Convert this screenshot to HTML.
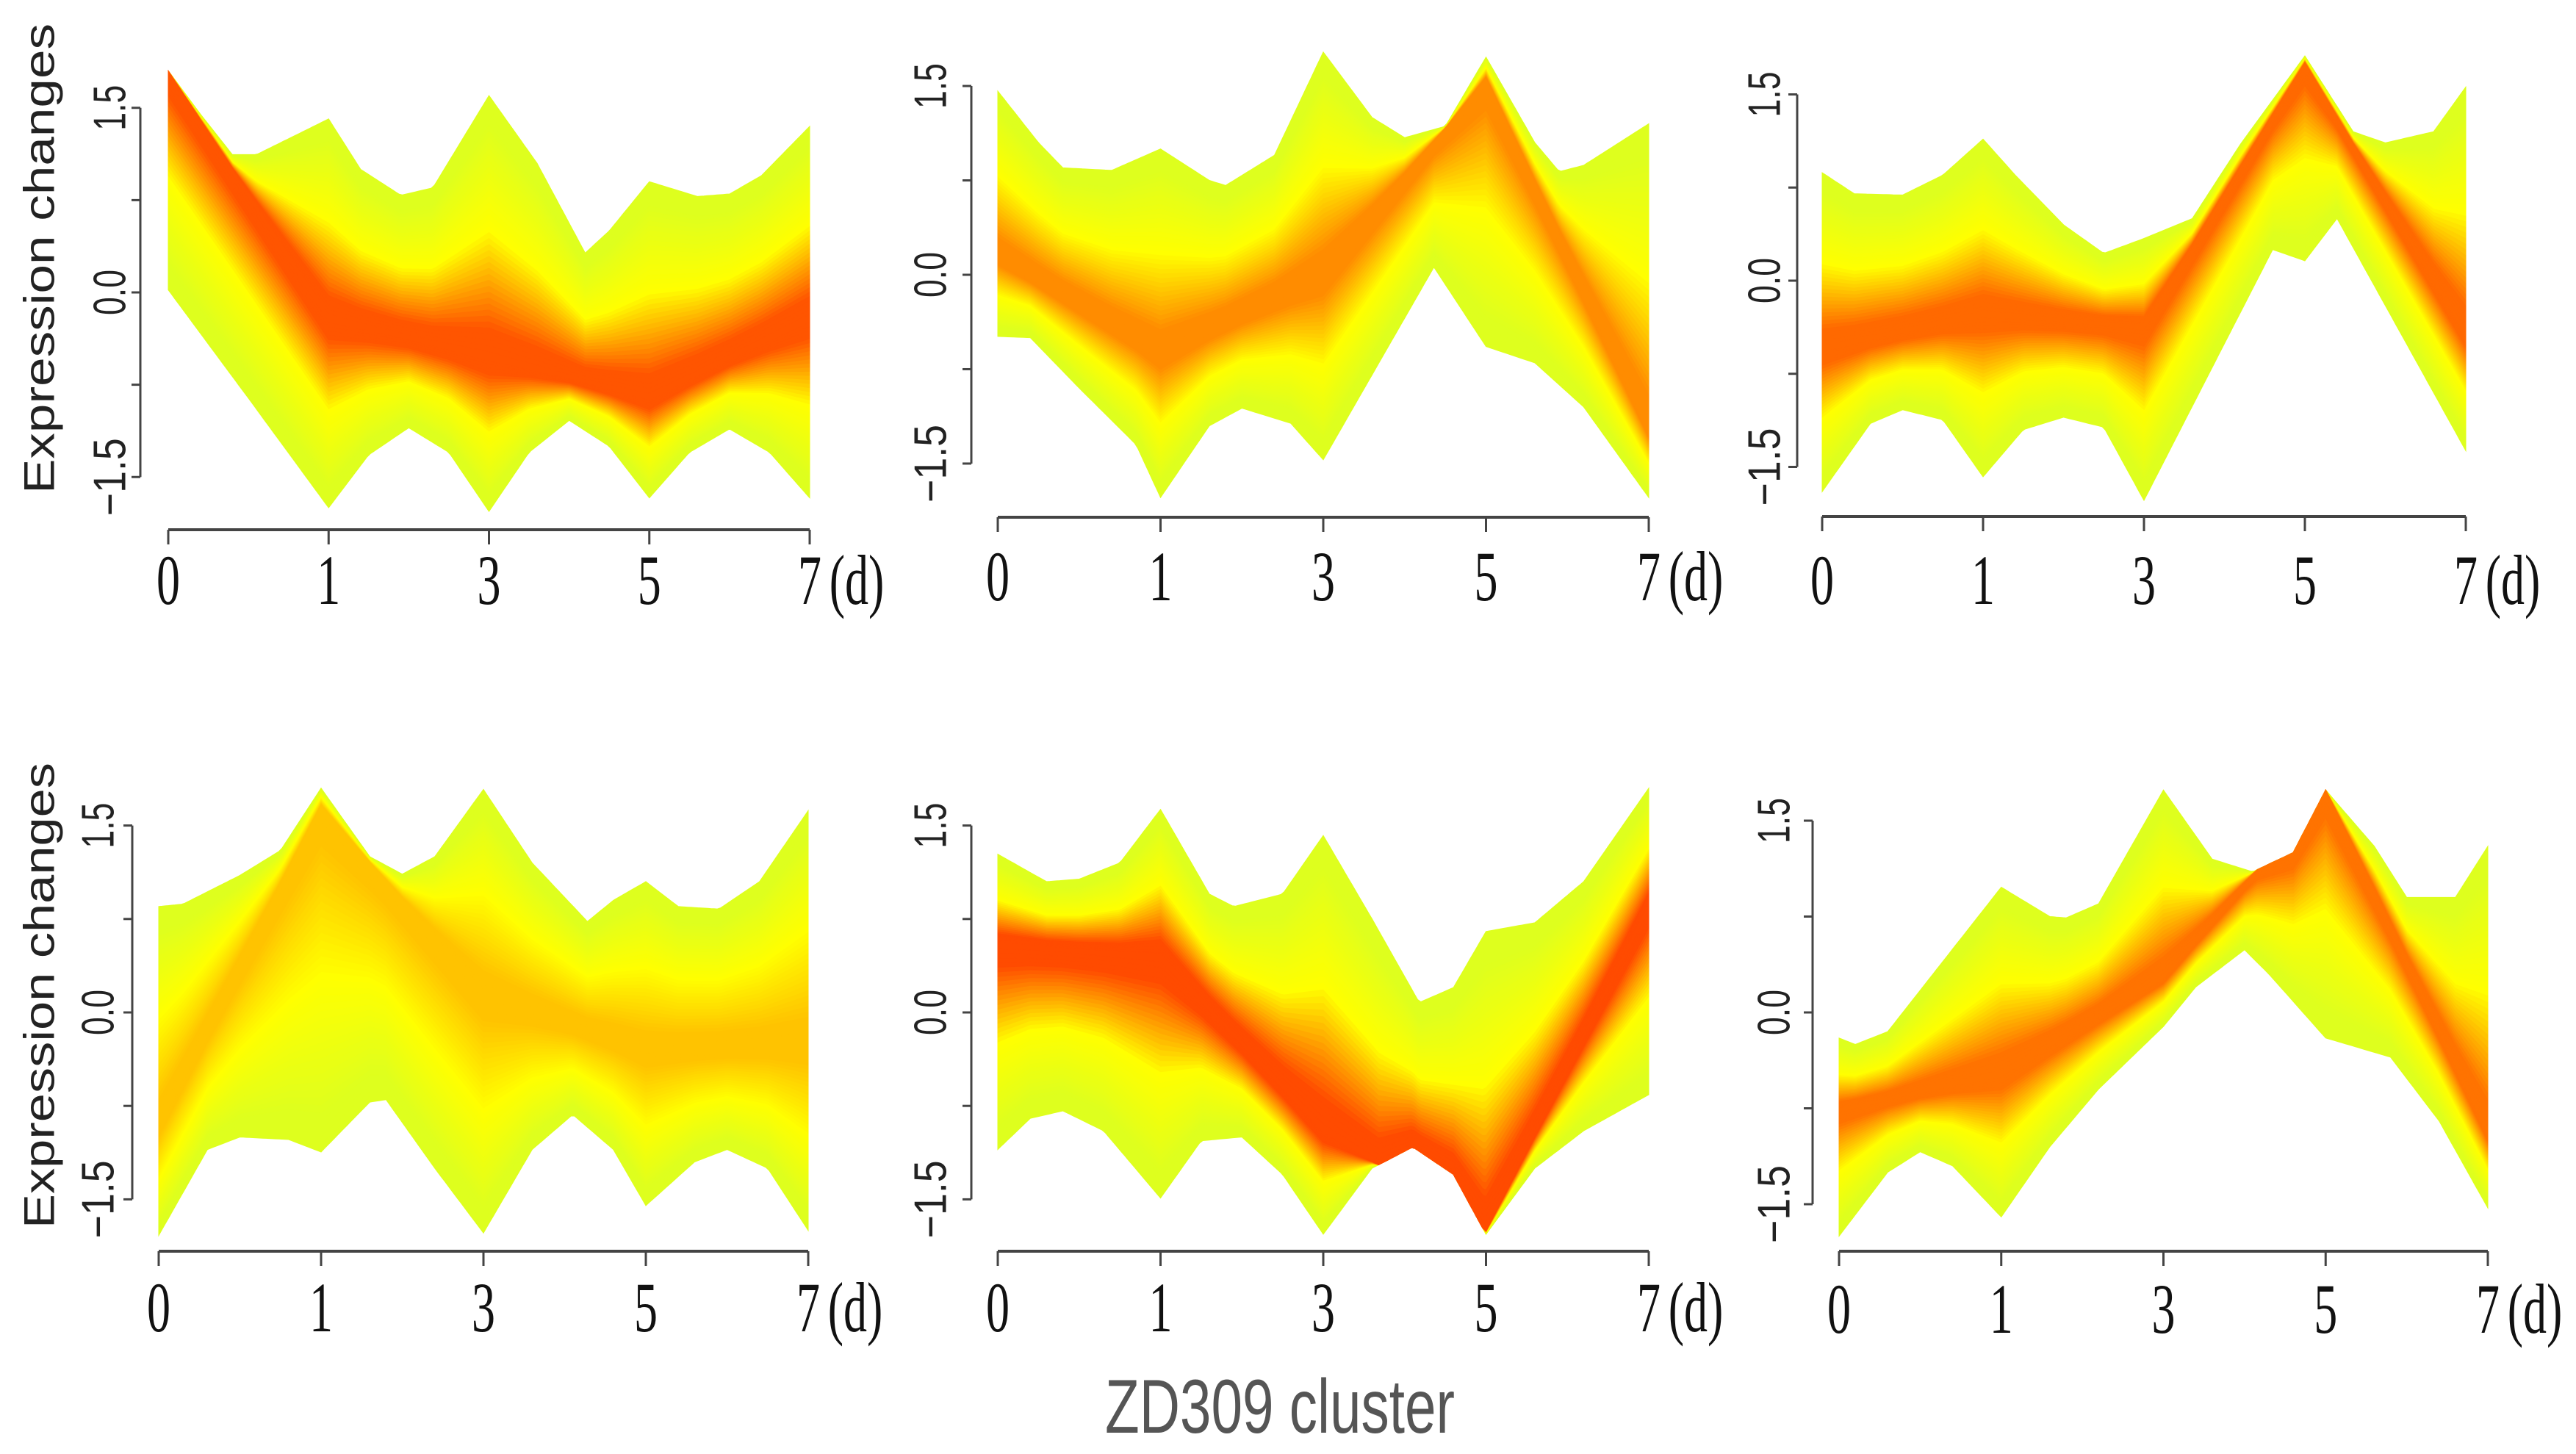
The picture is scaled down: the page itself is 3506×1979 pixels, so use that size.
<!DOCTYPE html>
<html><head><meta charset="utf-8"><title>ZD309 cluster</title>
<style>html,body{margin:0;padding:0;background:#fff;}svg{display:block;}</style>
</head><body>
<svg id="chart" xmlns="http://www.w3.org/2000/svg" width="3506" height="1979" viewBox="0 0 3506 1979">
<rect x="0" y="0" width="3506" height="1979" fill="#ffffff"/>
<text x="1742" y="0" transform="translate(0,1950) scale(1,1.3)" font-family="Liberation Sans, sans-serif" font-size="80" fill="#555" text-anchor="middle" textLength="476" lengthAdjust="spacingAndGlyphs">ZD309 cluster</text>
<text transform="translate(54,352) rotate(-90)" font-family="Liberation Sans, sans-serif" font-size="58" fill="#222" text-anchor="middle" dominant-baseline="central" textLength="640" lengthAdjust="spacingAndGlyphs">Expression changes</text>
<text transform="translate(54,1355) rotate(-90)" font-family="Liberation Sans, sans-serif" font-size="58" fill="#222" text-anchor="middle" dominant-baseline="central" textLength="634" lengthAdjust="spacingAndGlyphs">Expression changes</text>
</svg>
<script>
// ---- data ----
const timeLabels = ['0', '1', '3', '5', '7'];
const yTicks = [1.5, 0.75, 0, -0.75, -1.5];
const yTickLabels = ['1.5', '', '0.0', '', '\u22121.5'];

const p1Upper = [[0,1.80],[0.2,1.45],[0.4,1.12],[0.55,1.12],[1,1.41],[1.2,1.0],[1.45,0.79],[1.65,0.85],[2,1.60],[2.3,1.05],[2.6,0.32],[2.75,0.5],[3,0.90],[3.3,0.78],[3.5,0.80],[3.7,0.95],[4,1.35]];
const p1Lower = [[0,0.02],[0.5,-0.86],[1,-1.75],[1.25,-1.32],[1.5,-1.10],[1.75,-1.3],[2,-1.78],[2.25,-1.3],[2.5,-1.04],[2.75,-1.25],[3,-1.67],[3.25,-1.3],[3.5,-1.11],[3.75,-1.3],[4,-1.67]];
const p1Center = [1.80, -0.21, -0.53, -0.86, -0.21];

const p2Upper = [[0,1.46],[0.25,1.05],[0.4,0.85],[0.7,0.83],[1,1.0],[1.3,0.75],[1.4,0.71],[1.7,0.95],[2,1.77],[2.3,1.25],[2.5,1.09],[2.75,1.18],[3,1.73],[3.3,1.05],[3.45,0.82],[3.6,0.87],[4,1.20]];
const p2Lower = [[0,-0.49],[0.2,-0.5],[0.5,-0.9],[0.85,-1.35],[1,-1.77],[1.3,-1.2],[1.5,-1.06],[1.8,-1.18],[2,-1.47],[2.68,0.06],[3,-0.57],[3.3,-0.7],[3.6,-1.05],[4,-1.77]];
const p2Center = [0.15, -0.62, 0.0, 1.55, -1.23];

const p3Upper = [[0,0.87],[0.2,0.7],[0.5,0.69],[0.75,0.85],[1,1.14],[1.2,0.85],[1.5,0.45],[1.75,0.22],[2,0.34],[2.3,0.5],[2.6,1.1],[3,1.81],[3.3,1.2],[3.5,1.11],[3.8,1.2],[4,1.56]];
const p3Lower = [[0,-1.70],[0.3,-1.15],[0.5,-1.04],[0.75,-1.12],[1,-1.58],[1.25,-1.2],[1.5,-1.1],[1.75,-1.18],[2,-1.77],[2.8,0.25],[3,0.16],[3.2,0.5],[4,-1.37]];
const p3Center = [-0.55, -0.27, -0.37, 1.75, -0.43];

const p4Upper = [[0,0.85],[0.15,0.87],[0.5,1.10],[0.75,1.3],[1,1.80],[1.3,1.25],[1.5,1.11],[1.7,1.25],[2,1.79],[2.3,1.2],[2.64,0.73],[2.8,0.9],[3,1.05],[3.2,0.85],[3.45,0.83],[3.7,1.05],[4,1.62]];
const p4Lower = [[0,-1.79],[0.3,-1.1],[0.5,-1.0],[0.8,-1.02],[1,-1.12],[1.3,-0.72],[1.4,-0.7],[1.7,-1.25],[2,-1.77],[2.3,-1.1],[2.55,-0.82],[2.8,-1.1],[3,-1.55],[3.3,-1.2],[3.5,-1.1],[3.75,-1.25],[4,-1.75]];
const p4Center = [-0.9, 1.65, 0.15, -0.3, -0.25];

const p5Upper = [[0,1.27],[0.3,1.05],[0.5,1.07],[0.75,1.2],[1,1.63],[1.3,0.95],[1.45,0.85],[1.75,0.95],[2,1.42],[2.3,0.75],[2.59,0.08],[2.8,0.2],[3,0.65],[3.3,0.72],[3.6,1.05],[4,1.80]];
const p5Lower = [[0,-1.10],[0.2,-0.85],[0.4,-0.79],[0.65,-0.95],[1,-1.49],[1.25,-1.03],[1.5,-1.0],[1.75,-1.3],[2,-1.78],[2.3,-1.25],[2.55,-1.08],[2.8,-1.3],[3,-1.78],[3.3,-1.25],[3.6,-0.95],[4,-0.66]];
const p5Center = [0.55, 0.45, -0.95, -1.75, 0.85];

const p6Upper = [[0,-0.20],[0.1,-0.25],[0.3,-0.15],[1,0.98],[1.3,0.75],[1.4,0.74],[1.6,0.85],[2,1.74],[2.3,1.2],[2.55,1.1],[2.8,1.25],[3,1.74],[3.3,1.3],[3.5,0.9],[3.8,0.9],[4,1.3]];
const p6Lower = [[0,-1.75],[0.3,-1.25],[0.5,-1.09],[0.7,-1.2],[1,-1.6],[1.3,-1.05],[1.6,-0.6],[2,-0.11],[2.2,0.2],[2.5,0.49],[2.65,0.3],[3,-0.2],[3.4,-0.35],[3.7,-0.85],[4,-1.53]];
const p6Center = [-0.76, -0.48, 0.27, 1.74, -0.94];

// ---- layout (not data) ----
const panels = [
  {name:'panel-1', up:p1Upper, lo:p1Lower, ce:p1Center, peak:[255,85,0],  x0:229,  x7:1102, zeroY:398,  unit:167.5, axisX:191,  labelX:150,  axisY:721,  tlY:780},
  {name:'panel-2', up:p2Upper, lo:p2Lower, ce:p2Center, peak:[255,140,0], x0:1358, x7:2244, zeroY:374,  unit:171.3, axisX:1322, labelX:1267, axisY:704,  tlY:775},
  {name:'panel-3', up:p3Upper, lo:p3Lower, ce:p3Center, peak:[255,105,0], x0:2480, x7:3356, zeroY:382,  unit:169,   axisX:2446, labelX:2402, axisY:703,  tlY:780},
  {name:'panel-4', up:p4Upper, lo:p4Lower, ce:p4Center, peak:[255,195,0], x0:216,  x7:1100, zeroY:1378, unit:169.6, axisX:180,  labelX:134,  axisY:1703, tlY:1770},
  {name:'panel-5', up:p5Upper, lo:p5Lower, ce:p5Center, peak:[255,75,0],  x0:1358, x7:2244, zeroY:1378, unit:169.6, axisX:1322, labelX:1267, axisY:1703, tlY:1770},
  {name:'panel-6', up:p6Upper, lo:p6Lower, ce:p6Center, peak:[255,115,0], x0:2503, x7:3386, zeroY:1378, unit:174,   axisX:2467, labelX:2415, axisY:1703, tlY:1772}
];

const NS = 'http://www.w3.org/2000/svg';
const svg = document.getElementById('chart');

function interpPairs(arr, t) {
  if (t <= arr[0][0]) return arr[0][1];
  for (let i = 1; i < arr.length; i++) {
    if (t <= arr[i][0]) {
      const a = arr[i-1], b = arr[i];
      return a[1] + (b[1]-a[1]) * (t-a[0]) / (b[0]-a[0]);
    }
  }
  return arr[arr.length-1][1];
}
function interpCenter(ce, t) {
  const i = Math.min(Math.floor(t), ce.length - 2);
  return ce[i] + (ce[i+1]-ce[i]) * (t - i);
}
function mix(a, b, k) {
  k = Math.max(0, Math.min(1, k));
  return 'rgb(' + [0,1,2].map(j => Math.round(a[j] + (b[j]-a[j])*k)).join(',') + ')';
}
const YEL = [255,255,0], OUT = [222,255,30];
function colorAt(f, peak) {
  if (f > 0.5) return mix(YEL, OUT, (f-0.5)/0.4);
  if (f > 0.12) return mix(peak, YEL, (f-0.12)/0.38);
  return mix(peak, peak, 0);
}

panels.forEach(p => {
  const g = document.createElementNS(NS, 'g');
  
  
  svg.appendChild(g);
  const step = (p.x7 - p.x0) / 4;
  const xs = t => p.x0 + t * step;
  const ys = v => p.zeroY - v * p.unit;

  const T = [];
  for (let i = 0; i <= 200; i++) T.push(i * 4 / 200);
  const U = T.map(t => interpPairs(p.up, t));
  const L = T.map(t => interpPairs(p.lo, t));
  const C = T.map((t, i) => Math.max(L[i], Math.min(U[i], interpCenter(p.ce, t))));

  const N = 44;
  const bands = document.createElementNS(NS, 'g');
  
  
  g.appendChild(bands);
  for (let k = N; k >= 1; k--) {
    const f = k / N;
    let top = [], bot = [];
    for (let i = 0; i < T.length; i++) {
      top.push(xs(T[i]).toFixed(1) + ',' + ys(C[i] + (U[i]-C[i])*f).toFixed(1));
      bot.push(xs(T[i]).toFixed(1) + ',' + ys(C[i] - (C[i]-L[i])*f).toFixed(1));
    }
    const poly = document.createElementNS(NS, 'polygon');
    poly.setAttribute('points', top.concat(bot.reverse()).join(' '));
    const col = colorAt(f, p.peak);
    poly.setAttribute('fill', col);
    poly.setAttribute('stroke', col);
    poly.setAttribute('stroke-width', '1');
    
    
    bands.appendChild(poly);
  }

  const yAx = document.createElementNS(NS, 'line');
  yAx.setAttribute('x1', p.axisX); yAx.setAttribute('x2', p.axisX);
  yAx.setAttribute('y1', ys(yTicks[0])); yAx.setAttribute('y2', ys(yTicks[yTicks.length-1]));
  yAx.setAttribute('stroke', '#444'); yAx.setAttribute('stroke-width', '3');
  
  
  g.appendChild(yAx);
  yTicks.forEach((v, i) => {
    const tk = document.createElementNS(NS, 'line');
    tk.setAttribute('x1', p.axisX - 12); tk.setAttribute('x2', p.axisX);
    tk.setAttribute('y1', ys(v)); tk.setAttribute('y2', ys(v));
    tk.setAttribute('stroke', '#444'); tk.setAttribute('stroke-width', '3');
    
    
    g.appendChild(tk);
    if (yTickLabels[i]) {
      const tx = document.createElementNS(NS, 'text');
      tx.setAttribute('transform', 'translate(' + p.labelX + ',' + ys(v) + ') rotate(-90)');
      tx.setAttribute('font-family', 'Liberation Sans, sans-serif');
      tx.setAttribute('font-size', '62');
      tx.setAttribute('fill', '#222');
      tx.setAttribute('text-anchor', 'middle');
      tx.setAttribute('dominant-baseline', 'central');
      tx.setAttribute('textLength', yTickLabels[i].length > 3 ? '106' : '62');
      tx.setAttribute('lengthAdjust', 'spacingAndGlyphs');
      tx.textContent = yTickLabels[i];
      
      
      g.appendChild(tx);
    }
  });

  const xAx = document.createElementNS(NS, 'line');
  xAx.setAttribute('x1', p.x0); xAx.setAttribute('x2', p.x7);
  xAx.setAttribute('y1', p.axisY); xAx.setAttribute('y2', p.axisY);
  xAx.setAttribute('stroke', '#444'); xAx.setAttribute('stroke-width', '4');
  
  
  g.appendChild(xAx);
  timeLabels.forEach((lab, i) => {
    const tk = document.createElementNS(NS, 'line');
    tk.setAttribute('x1', xs(i)); tk.setAttribute('x2', xs(i));
    tk.setAttribute('y1', p.axisY); tk.setAttribute('y2', p.axisY + 20);
    tk.setAttribute('stroke', '#444'); tk.setAttribute('stroke-width', '3');
    
    
    g.appendChild(tk);
    const tx = document.createElementNS(NS, 'text');
    tx.setAttribute('transform', 'translate(' + xs(i) + ',' + (p.tlY + 42) + ') scale(1,1.5)');
    tx.setAttribute('font-family', 'Liberation Serif, serif');
    tx.setAttribute('font-size', '64');
    tx.setAttribute('fill', '#111');
    tx.setAttribute('text-anchor', 'middle');
    tx.textContent = lab;
    
    
    g.appendChild(tx);
  });
  const unitTx = document.createElementNS(NS, 'text');
  unitTx.setAttribute('transform', 'translate(' + (p.x7 + 64) + ',' + (p.tlY + 42) + ') scale(1,1.5)');
  unitTx.setAttribute('font-family', 'Liberation Serif, serif');
  unitTx.setAttribute('font-size', '64');
  unitTx.setAttribute('fill', '#111');
  unitTx.setAttribute('text-anchor', 'middle');
  unitTx.textContent = '(d)';
  
  
  g.appendChild(unitTx);
});
</script>
</body></html>
